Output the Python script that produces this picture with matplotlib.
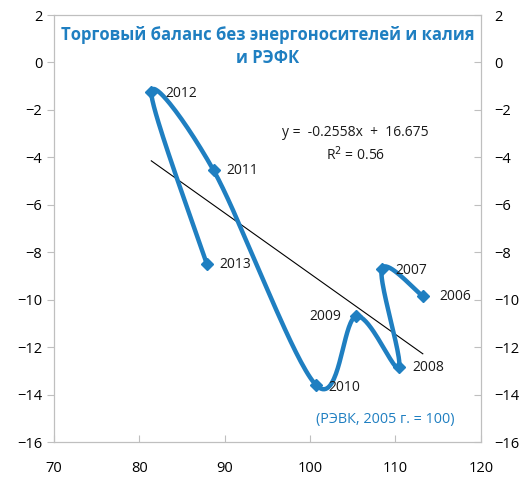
import numpy as np
import matplotlib
matplotlib.use("Agg")
import matplotlib.pyplot as plt

plt.rcParams["font.family"] = ["Open Sans", "DejaVu Sans"]

years = ["2006", "2007", "2008", "2009", "2010", "2011", "2012", "2013"]
rer   = [113.2, 108.4, 110.4, 105.4, 100.7, 88.7, 81.4, 87.9]
bal   = [-9.85, -8.7, -12.85, -10.7, -13.6, -4.55, -1.25, -8.5]

slope, intercept, r2 = -0.2558, 16.675, 0.56

BLUE = "#1f7fc1"
GREY = "#bfbfbf"
XMIN, XMAX, YMIN, YMAX = 70, 120, -16, 2


def smooth(xs, ys, n=40):
    # Excel-style smoothed line (Catmull-Rom through the points, in axes units)
    px = (np.array(xs) - XMIN) / (XMAX - XMIN)
    py = (np.array(ys) - YMIN) / (YMAX - YMIN)
    pts = np.column_stack([px, py])
    pts = np.vstack([pts[0], pts, pts[-1]])
    out = []
    for i in range(1, len(pts) - 2):
        p0, p1, p2, p3 = pts[i - 1], pts[i], pts[i + 1], pts[i + 2]
        c1 = p1 + (p2 - p0) / 6
        c2 = p2 - (p3 - p1) / 6
        t = np.linspace(0, 1, n)[:, None]
        seg = ((1 - t) ** 3 * p1 + 3 * (1 - t) ** 2 * t * c1
               + 3 * (1 - t) * t ** 2 * c2 + t ** 3 * p2)
        out.append(seg)
    out = np.vstack(out)
    return out[:, 0] * (XMAX - XMIN) + XMIN, out[:, 1] * (YMAX - YMIN) + YMIN


fig = plt.figure(figsize=(5.29, 4.78), dpi=100)
ax = fig.add_axes([0.102, 0.0753, 0.807, 0.8933])

sx, sy = smooth(rer, bal)
ax.plot(sx, sy, color=BLUE, lw=3.2, solid_capstyle="round", zorder=3)
ax.plot(rer, bal, "D", color=BLUE, ms=6.5, zorder=4)

tx = np.array([min(rer), max(rer)])
ax.plot(tx, slope * tx + intercept, color="black", lw=0.8, zorder=2)

offsets = {
    "2006": (12, 0, "left"), "2007": (10, -1, "left"), "2008": (10, 0, "left"),
    "2009": (-11, 0, "right"), "2010": (9, -2, "left"), "2011": (9, 0, "left"),
    "2012": (10, -1, "left"), "2013": (9, 0, "left"),
}
for x, y, lab in zip(rer, bal, years):
    dx, dy, ha = offsets[lab]
    ax.annotate(lab, (x, y), xytext=(dx, dy), textcoords="offset points",
                ha=ha, va="center", fontsize=10, color="#1a1a1a")

ax.text(0.707, 0.696, f"y =  -{abs(slope)}x  +  {intercept}\nR$^2$ = {r2}",
        transform=ax.transAxes, ha="center", va="center", fontsize=10,
        linespacing=1.35, color="#1a1a1a")
ax.text(0.5, 0.975, "Торговый баланс без энергоносителей и калия\nи РЭФК",
        transform=ax.transAxes, ha="center", va="top", fontsize=12,
        fontweight="bold", color=BLUE, linespacing=1.4)
ax.text(0.939, 0.052, "(РЭВК, 2005 г. = 100)", transform=ax.transAxes,
        ha="right", va="center", fontsize=10.4, color=BLUE)

ax.set_xlim(XMIN, XMAX)
ax.set_ylim(YMIN, YMAX)
ax.set_xticks(np.arange(70, 121, 10))
ax.set_yticks(np.arange(-16, 3, 2))
for s in ax.spines.values():
    s.set_color(GREY)
ax.tick_params(axis="x", direction="in", length=5, color=GREY, labelsize=10.5, pad=14)
ax.tick_params(axis="y", direction="out", length=5, color=GREY, labelsize=10.5)

ax2 = ax.twinx()
ax2.set_ylim(YMIN, YMAX)
ax2.set_yticks(np.arange(-16, 3, 2))
ax2.tick_params(axis="y", direction="in", length=5, color=GREY, labelsize=10.5, pad=10)
for s in ax2.spines.values():
    s.set_color(GREY)

fig.savefig("out.png", dpi=100)
